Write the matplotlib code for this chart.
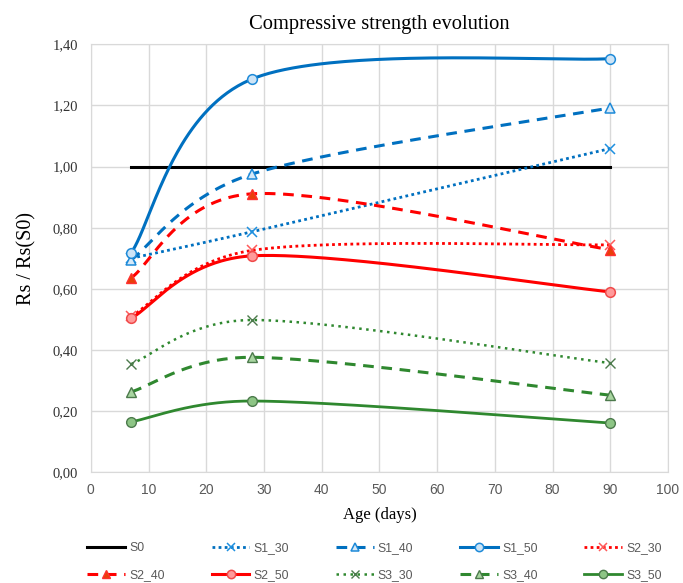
import numpy as np
import matplotlib
matplotlib.use('Agg')
import matplotlib.pyplot as plt
from matplotlib.lines import Line2D
from matplotlib.ticker import FuncFormatter

# data (age in days, Rs / Rs(S0))
age = [7, 28, 90]
s0_age = [7, 90]
s0 = [1.0, 1.0]
s1_30 = [0.700, 0.787, 1.059]
s1_40 = [0.695, 0.976, 1.192]
s1_50 = [0.718, 1.287, 1.353]
s2_30 = [0.510, 0.726, 0.744]
s2_40 = [0.636, 0.911, 0.728]
s2_50 = [0.504, 0.708, 0.590]
s3_30 = [0.354, 0.498, 0.357]
s3_40 = [0.263, 0.376, 0.252]
s3_50 = [0.165, 0.233, 0.161]

blue = '#0070C0'
red = '#FF0000'
green = '#2F882F'

fig = plt.figure(figsize=(6.83, 5.83), dpi=100)
ax = fig.add_axes([0.133, 0.19, 0.845, 0.734])
ax.set_xlim(0, 100)
ax.set_ylim(0, 1.4)


def excel_smooth(x, y, n=80):
    # excel-like smoothed line: bezier segments built in screen space
    pts = ax.transData.transform(np.column_stack([x, y]))
    out = [pts[0]]
    m = len(pts)
    for i in range(m - 1):
        p0 = pts[max(i - 1, 0)]
        p1 = pts[i]
        p2 = pts[i + 1]
        p3 = pts[min(i + 2, m - 1)]
        d12 = np.hypot(*(p2 - p1))
        d02 = np.hypot(*(p2 - p0))
        d13 = np.hypot(*(p3 - p1))
        f0 = 1 / 6 if d02 / 6 < d12 / 2 else d12 / (2 * d02)
        f3 = 1 / 6 if d13 / 6 < d12 / 2 else d12 / (2 * d13)
        b1 = p1 + (p2 - p0) * f0
        b2 = p2 - (p3 - p1) * f3
        t = np.linspace(0, 1, n)[1:, None]
        seg = ((1 - t) ** 3) * p1 + 3 * ((1 - t) ** 2) * t * b1 \
            + 3 * (1 - t) * t ** 2 * b2 + t ** 3 * p2
        out.extend(seg)
    res = ax.transData.inverted().transform(np.array(out))
    return res[:, 0], res[:, 1]


series = [
    ('S0', s0_age, s0, dict(color='black', ls='-', lw=2.2), None),
    ('S1_30', age, s1_30, dict(color=blue, ls=(0, (1, 1.2)), lw=2),
     dict(marker='x', ms=7, mec='#1E90E0', mew=1.1)),
    ('S1_40', age, s1_40, dict(color=blue, ls=(0, (3.5, 2.5)), lw=2.2),
     dict(marker='^', ms=7, mfc='#D6E9F8', mec='#1E8AD8', mew=1.1)),
    ('S1_50', age, s1_50, dict(color=blue, ls='-', lw=2.2),
     dict(marker='o', ms=7, mfc='#CDE4F6', mec='#1E8AD8', mew=1.1)),
    ('S2_30', age, s2_30, dict(color=red, ls=(0, (1, 1.2)), lw=2),
     dict(marker='x', ms=7, mec='#FF5A5A', mew=1.1)),
    ('S2_40', age, s2_40, dict(color=red, ls=(0, (3.5, 2.5)), lw=2.2),
     dict(marker='^', ms=7, mfc='#E8400A', mec='#FF3030', mew=1.0)),
    ('S2_50', age, s2_50, dict(color=red, ls='-', lw=2.2),
     dict(marker='o', ms=7, mfc='#FF9A9A', mec='#F04A4A', mew=1.1)),
    ('S3_30', age, s3_30, dict(color=green, ls=(0, (1, 1.8)), lw=1.8),
     dict(marker='x', ms=7, mec='#4C7A4C', mew=1.0)),
    ('S3_40', age, s3_40, dict(color=green, ls=(0, (3.5, 2.5)), lw=2.2),
     dict(marker='^', ms=7, mfc='#A8D5A0', mec='#4C7A4C', mew=1.0)),
    ('S3_50', age, s3_50, dict(color=green, ls='-', lw=2),
     dict(marker='o', ms=7, mfc='#8DC585', mec='#4C7A4C', mew=1.0)),
]

handles = []
for name, xs, ys, lstyle, mstyle in series:
    if mstyle is None:
        ax.plot(xs, ys, zorder=3, **lstyle)
        handles.append(Line2D([], [], **lstyle))
    else:
        sx, sy = excel_smooth(xs, ys)
        ax.plot(sx, sy, zorder=3, **lstyle)
        ax.plot(xs, ys, ls='none', zorder=4, **mstyle)
        small = dict(mstyle, ms=6)
        handles.append(Line2D([], [], **lstyle, **small))

ax.set_xticks(np.arange(0, 101, 10))
ax.set_yticks(np.arange(0, 1.41, 0.2))
ax.yaxis.set_major_formatter(FuncFormatter(lambda v, p: f'{v:.2f}'.replace('.', ',')))
ax.grid(True, color='#D9D9D9', lw=1)
ax.set_axisbelow(True)
ax.tick_params(length=0)
ax.tick_params(axis='x', labelsize=10, colors='#595959', pad=8)
ax.tick_params(axis='y', labelsize=10.5, colors='#333333', pad=9)
for lab in ax.get_xticklabels():
    lab.set_fontfamily('Liberation Sans')
for lab in ax.get_yticklabels():
    lab.set_fontfamily('Liberation Serif')
for sp in ax.spines.values():
    sp.set_color('#D9D9D9')

ax.set_title('Compressive strength evolution', fontfamily='Liberation Serif',
             fontsize=14.8, pad=11)
ax.set_xlabel('Age (days)', fontfamily='Liberation Serif', fontsize=12, labelpad=7)
ax.set_ylabel('Rs / Rs(S0)', fontfamily='Liberation Serif', fontsize=14.5, labelpad=12)

# legend laid out row by row
order = [0, 5, 1, 6, 2, 7, 3, 8, 4, 9]
labels = [s[0] for s in series]
leg = fig.legend([handles[i] for i in order], [labels[i] for i in order],
                 loc='lower left', bbox_to_anchor=(0.112, -0.016), ncol=5,
                 frameon=False, numpoints=1, handlelength=3.1, handletextpad=0.35,
                 columnspacing=3.8, labelspacing=1.25,
                 prop={'family': 'Liberation Sans', 'size': 8.8})
for t in leg.get_texts():
    t.set_color('#595959')

fig.savefig('out.png', dpi=100)
